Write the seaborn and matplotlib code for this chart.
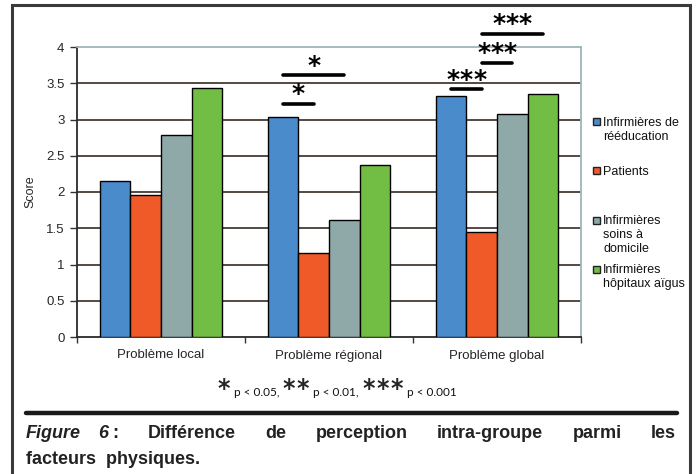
import numpy as np
import pandas as pd
import matplotlib
matplotlib.use("Agg")
import matplotlib.pyplot as plt
from matplotlib.patches import Rectangle
from matplotlib.lines import Line2D
from matplotlib.ticker import FixedLocator, FuncFormatter
import seaborn as sns

# ---- data -------------------------------------------------------------
problemes = ["Problème local", "Problème régional", "Problème global"]
groupes = ["Infirmières de\nrééducation", "Patients",
           "Infirmières\nsoins à\ndomicile", "Infirmières\nhôpitaux aïgus"]
couleurs = ["#4a8bcc", "#f05a28", "#8fa8a8", "#72be44"]

score_reeducation = [2.15, 3.03, 3.32]
score_patients = [1.96, 1.16, 1.45]
score_domicile = [2.78, 1.62, 3.07]
score_aigus = [3.44, 2.37, 3.35]

y_ticks = [0, 0.5, 1, 1.5, 2, 2.5, 3, 3.5, 4]

# significance brackets: category, first group, second group, height, label
sig_cat = [1, 1, 2, 2, 2]
sig_from = [0, 0, 0, 1, 1]
sig_to = [1, 2, 1, 2, 3]
sig_y = [3.22, 3.61, 3.42, 3.78, 4.18]
sig_label = ["*", "*", "***", "***", "***"]

legende_p = [("*", " p < 0.05,"), ("**", " p < 0.01,"), ("***", " p < 0.001")]

titre_mots = ["Différence", "de", "perception", "intra-groupe", "parmi", "les"]

# ---- figure -----------------------------------------------------------
sns.set_style("white")
plt.rcParams["font.family"] = ["Liberation Sans", "DejaVu Sans"]

W, H = 697, 474
fig = plt.figure(figsize=(W / 100, H / 100), dpi=100)
fig.patch.set_facecolor("white")


def fx(px):
    return px / W


def fy(py):
    return 1 - py / H


ax = fig.add_axes([fx(77), fy(337), fx(581) - fx(77), fy(47) - fy(337)])

df = pd.DataFrame({
    "Problème": problemes * 4,
    "Groupe": np.repeat(groupes, len(problemes)),
    "Score": score_reeducation + score_patients + score_domicile + score_aigus,
})

sns.barplot(data=df, x="Problème", y="Score", hue="Groupe",
            order=problemes, hue_order=groupes, palette=couleurs,
            saturation=1, width=0.727, edgecolor="black", linewidth=1.0,
            errorbar=None, legend=False, ax=ax, zorder=3)

ax.set_ylim(0, 4)
ax.set_xlim(-0.5, len(problemes) - 0.5)
ax.yaxis.set_major_locator(FixedLocator(y_ticks))
ax.yaxis.set_major_formatter(FuncFormatter(lambda v, p: f"{v:g}"))
for v in y_ticks[1:-1]:
    ax.axhline(v, color="#463c36", lw=1.3, zorder=1)

ax.set_xlabel("")
ax.set_ylabel("Score", fontsize=9, labelpad=7)
ax.tick_params(axis="y", labelsize=9.5, length=5, width=1, color="#333333",
               direction="out", left=True, pad=4)
ax.tick_params(axis="x", labelsize=9.5, length=0, pad=9)
ax.xaxis.set_minor_locator(FixedLocator([-0.5, 0.5, 1.5, 2.5]))
ax.tick_params(axis="x", which="minor", length=4, width=1, color="#333333",
               direction="out", bottom=True)

for s in ["left", "bottom"]:
    ax.spines[s].set_color("#2a2a2a")
    ax.spines[s].set_linewidth(1.3)
for s in ["top", "right"]:
    ax.spines[s].set_visible(True)
    ax.spines[s].set_color("#9fb4b8")
    ax.spines[s].set_linewidth(1.3)

# ---- significance brackets -------------------------------------------
star_step = 9.5  # points between neighbouring asterisks
for c, a, b, h, lab in zip(sig_cat, sig_from, sig_to, sig_y, sig_label):
    ba = ax.containers[a][c]
    bb = ax.containers[b][c]
    x0 = ba.get_x() + ba.get_width() / 2
    x1 = bb.get_x() + bb.get_width() / 2
    ax.add_line(Line2D([x0, x1], [h, h], color="black", lw=2.6,
                       clip_on=False, zorder=5))
    n = len(lab)
    for i in range(n):
        ax.annotate("*", xy=((x0 + x1) / 2, h),
                    xytext=((i - (n - 1) / 2) * star_step, 1.8),
                    textcoords="offset points", ha="center", va="baseline",
                    fontsize=18, fontweight="bold", family="DejaVu Sans",
                    color="black", annotation_clip=False)

# ---- legend -----------------------------------------------------------
leg_y = [121.7, 170.7, 220, 269]
for nom, col, yy in zip(groupes, couleurs, leg_y):
    fig.patches.append(Rectangle((fx(593), fy(yy + 3.5)), fx(7), fy(0) - fy(7),
                                 transform=fig.transFigure, facecolor=col,
                                 edgecolor="#222222", lw=1.0))
    fig.text(fx(603), fy(yy - 5), nom, fontsize=9, va="top", ha="left",
             color="#111111", linespacing=1.2)

# ---- p-value key ------------------------------------------------------
renderer = fig.canvas.get_renderer()
x = 217
for etoiles, txt in legende_p:
    for k in range(len(etoiles)):
        t1 = fig.text(fx(x), fy(396), "*", fontsize=17, fontweight="bold",
                      family="DejaVu Sans", ha="left", va="baseline")
        x += t1.get_window_extent(renderer).width + 1.5
    t2 = fig.text(fx(x), fy(396.5), txt, fontsize=8.5, family="Lato",
                  ha="left", va="baseline", color="#111111")
    x += t2.get_window_extent(renderer).width + 3

# ---- frame and caption ------------------------------------------------
fig.patches.append(Rectangle((fx(12), fy(490)), fx(690) - fx(12), fy(5) - fy(490),
                             transform=fig.transFigure, fill=False,
                             edgecolor="#3a3a3a", lw=2.2))
fig.lines.append(Line2D([fx(26), fx(677)], [fy(412.5), fy(412.5)],
                        transform=fig.transFigure, color="#1a1a1a", lw=3.2))

cap_kw = dict(fontsize=13, fontweight="bold", va="baseline", ha="left",
              color="#222222")
base1, base2 = 438, 464
fig_t = fig.text(0, fy(base1), "Figure", style="italic", **cap_kw)
six_t = fig.text(0, fy(base1), "6", style="italic", **cap_kw)
col_t = fig.text(0, fy(base1), ":", **cap_kw)
mots = [fig.text(0, fy(base1), m, **cap_kw) for m in titre_mots]
wid = lambda t: t.get_window_extent(renderer).width
left, right = 26, 676
total = (wid(fig_t) + wid(six_t) + 4 + wid(col_t)
         + sum(wid(m) for m in mots))
gap = (right - left - total) / (len(mots) + 0.6)
xc = left
fig_t.set_x(fx(xc))
xc += wid(fig_t) + 0.6 * gap
six_t.set_x(fx(xc))
xc += wid(six_t) + 4
col_t.set_x(fx(xc))
xc += wid(col_t) + gap
for m in mots:
    m.set_x(fx(xc))
    xc += wid(m) + gap
fig.text(fx(26), fy(base2), "facteurs  physiques.", **cap_kw)

fig.savefig("out.png", dpi=100)
